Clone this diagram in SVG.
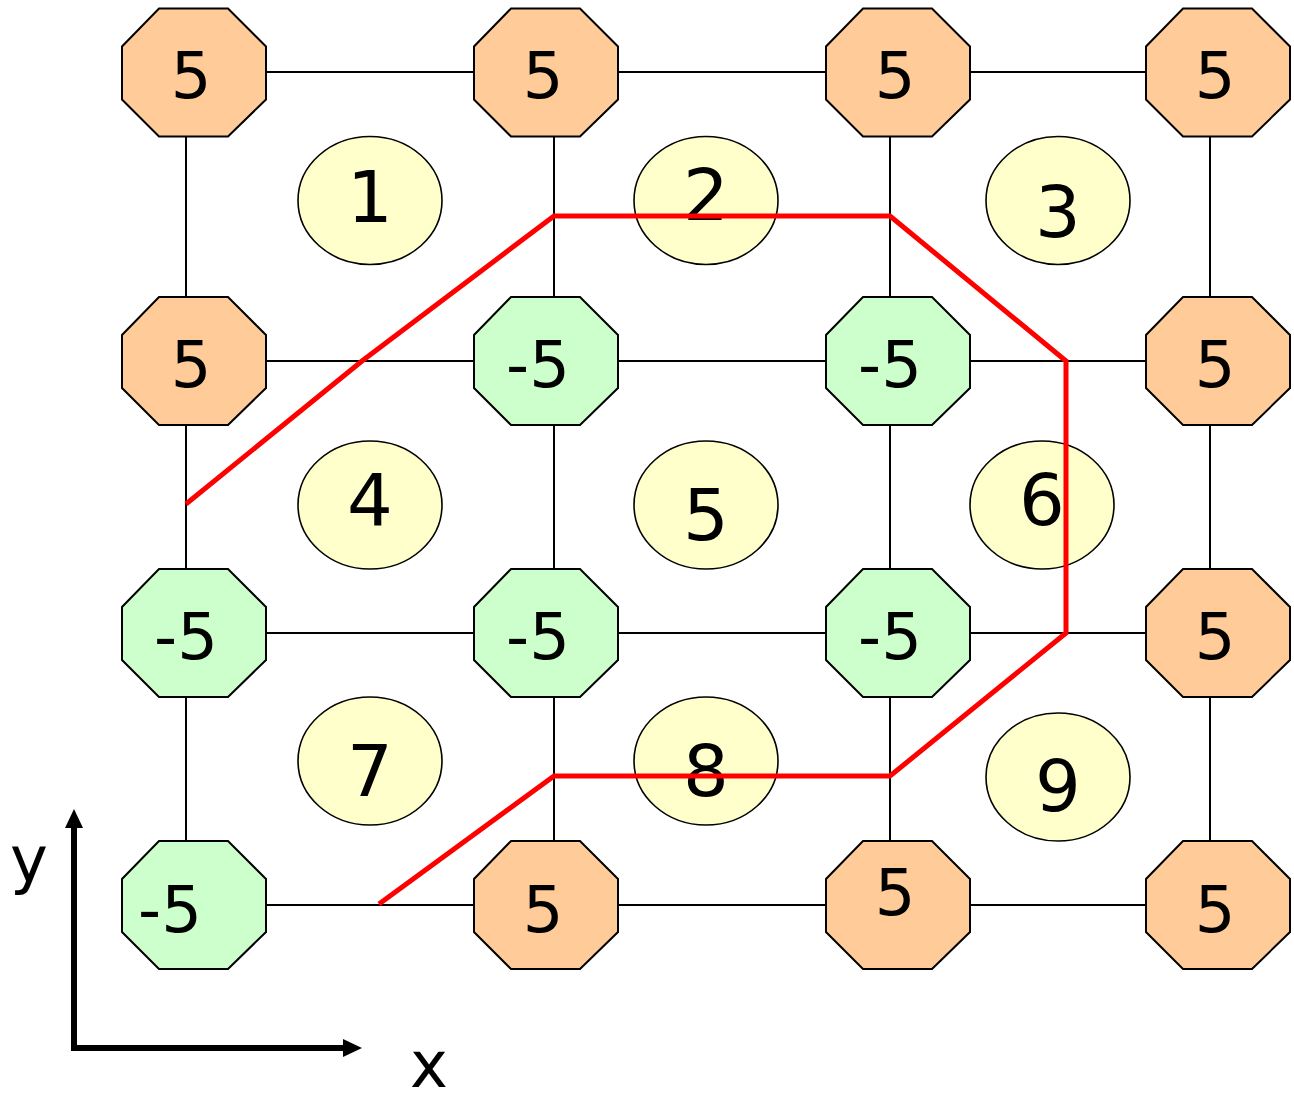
<svg xmlns="http://www.w3.org/2000/svg" xmlns:xlink="http://www.w3.org/1999/xlink" width="1294" height="1093" viewBox="0 0 1294 1093">
<style>
.grid{stroke:#000;stroke-width:2;fill:none}
.oct{stroke:#000;stroke-width:2}
.pos{fill:#FFCC99}
.neg{fill:#CCFFCC}
.cell{fill:#FFFFCC;stroke:#000;stroke-width:1.6}
.t{font-family:"DejaVu Sans","Verdana",sans-serif;fill:#000;text-anchor:middle}
.tn{font-size:64px}
.tc{font-size:72px}
.cut{stroke:#FF0000;stroke-width:5;fill:none;stroke-linejoin:miter}
.axis{stroke:#000;stroke-width:6;fill:none}
</style>
<defs>
<polygon id="octo" points="-35,-64 34,-64 72,-26 72,27 34,64 -35,64 -72,27 -72,-26"/>
</defs>
<rect width="1294" height="1093" fill="#fff"/>
<g id="connectors">
<line class="grid" x1="186" y1="72" x2="1210" y2="72"/>
<line class="grid" x1="186" y1="361" x2="1210" y2="361"/>
<line class="grid" x1="186" y1="633" x2="1210" y2="633"/>
<line class="grid" x1="186" y1="905" x2="1210" y2="905"/>
<line class="grid" x1="186" y1="72" x2="186" y2="905"/>
<line class="grid" x1="554" y1="72" x2="554" y2="905"/>
<line class="grid" x1="890" y1="72" x2="890" y2="905"/>
<line class="grid" x1="1210" y1="72" x2="1210" y2="905"/>
</g>
<g id="cells">
<g id="cell1"><ellipse class="cell" cx="370" cy="200.5" rx="72" ry="64"/><text class="t tc" x="370" y="222">1</text></g>
<g id="cell2"><ellipse class="cell" cx="706" cy="200.5" rx="72" ry="64"/><text class="t tc" x="706" y="220">2</text></g>
<g id="cell3"><ellipse class="cell" cx="1058" cy="200.5" rx="72" ry="64"/><text class="t tc" x="1058" y="237">3</text></g>
<g id="cell4"><ellipse class="cell" cx="370" cy="505" rx="72" ry="64"/><text class="t tc" x="370" y="525">4</text></g>
<g id="cell5"><ellipse class="cell" cx="706" cy="505" rx="72" ry="64"/><text class="t tc" x="706" y="540">5</text></g>
<g id="cell6"><ellipse class="cell" cx="1042" cy="505" rx="72" ry="64"/><text class="t tc" x="1042" y="525">6</text></g>
<g id="cell7"><ellipse class="cell" cx="370" cy="761" rx="72" ry="64"/><text class="t tc" x="370" y="796">7</text></g>
<g id="cell8"><ellipse class="cell" cx="706" cy="761" rx="72" ry="64"/><text class="t tc" x="706" y="796">8</text></g>
<g id="cell9"><ellipse class="cell" cx="1058" cy="777" rx="72" ry="64"/><text class="t tc" x="1058" y="811">9</text></g>
</g>
<g id="nodes">
<g id="n11"><use href="#octo" class="oct pos" x="194" y="72.5"/><text class="t tn" x="191" y="98">5</text></g>
<g id="n12"><use href="#octo" class="oct pos" x="546" y="72.5"/><text class="t tn" x="543" y="98">5</text></g>
<g id="n13"><use href="#octo" class="oct pos" x="898" y="72.5"/><text class="t tn" x="895" y="98">5</text></g>
<g id="n14"><use href="#octo" class="oct pos" x="1218" y="72.5"/><text class="t tn" x="1215" y="98">5</text></g>
<g id="n21"><use href="#octo" class="oct pos" x="194" y="361"/><text class="t tn" x="191" y="387">5</text></g>
<g id="n22"><use href="#octo" class="oct neg" x="546" y="361"/><text class="t tn" x="538" y="387">-5</text></g>
<g id="n23"><use href="#octo" class="oct neg" x="898" y="361"/><text class="t tn" x="890" y="387">-5</text></g>
<g id="n24"><use href="#octo" class="oct pos" x="1218" y="361"/><text class="t tn" x="1215" y="387">5</text></g>
<g id="n31"><use href="#octo" class="oct neg" x="194" y="633"/><text class="t tn" x="186" y="659">-5</text></g>
<g id="n32"><use href="#octo" class="oct neg" x="546" y="633"/><text class="t tn" x="538" y="659">-5</text></g>
<g id="n33"><use href="#octo" class="oct neg" x="898" y="633"/><text class="t tn" x="890" y="659">-5</text></g>
<g id="n34"><use href="#octo" class="oct pos" x="1218" y="633"/><text class="t tn" x="1215" y="659">5</text></g>
<g id="n41"><use href="#octo" class="oct neg" x="194" y="905"/><text class="t tn" x="170" y="932">-5</text></g>
<g id="n42"><use href="#octo" class="oct pos" x="546" y="905"/><text class="t tn" x="543" y="932">5</text></g>
<g id="n43"><use href="#octo" class="oct pos" x="898" y="905"/><text class="t tn" x="895" y="915">5</text></g>
<g id="n44"><use href="#octo" class="oct pos" x="1218" y="905"/><text class="t tn" x="1215" y="932">5</text></g>
</g>
<g id="contour">
<polyline class="cut" points="186,504 362,361 554,216 890,216 1066,361 1066,633 890,776 554,776 379,904"/>
</g>
<g id="axes">
<polyline class="axis" points="74,825 74,1048 346,1048"/>
<polygon points="74,809 65,828 83,828" fill="#000"/>
<polygon points="362,1048 343,1039 343,1057" fill="#000"/>
<text class="t tn" x="29" y="882">y</text>
<text class="t tn" x="429" y="1087">x</text>
</g>
</svg>
